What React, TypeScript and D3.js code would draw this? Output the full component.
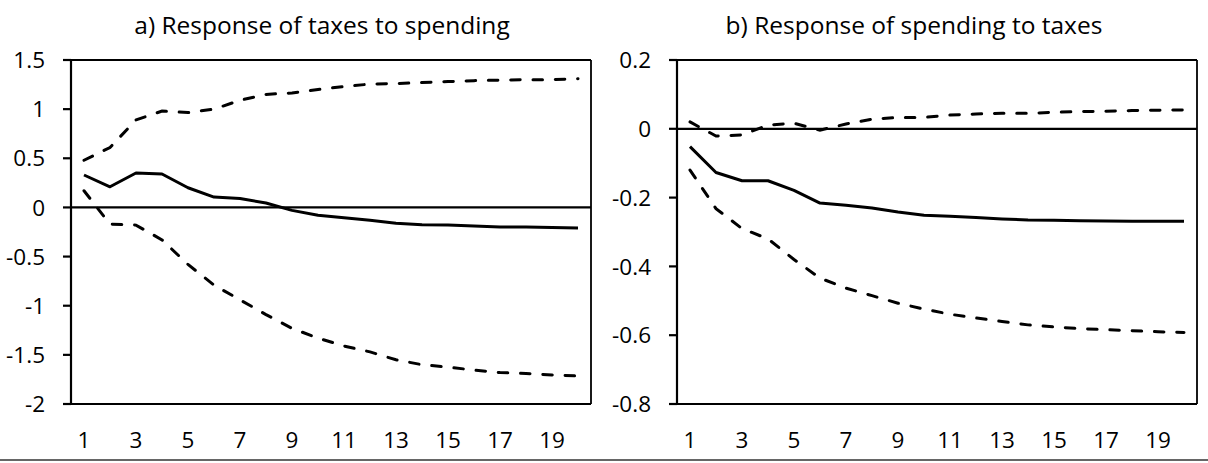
import * as d3 from "d3";

const WIDTH = 1208;
const HEIGHT = 463;
const FONT = "'Open Sans', 'Noto Sans', sans-serif";

const PERIODS = [1, 2, 3, 4, 5, 6, 7, 8, 9, 10, 11, 12, 13, 14, 15, 16, 17, 18, 19, 20];
const X_TICK_LABELS = ["1", "3", "5", "7", "9", "11", "13", "15", "17", "19"];

// a) taxes to spending
const TAX_MEAN = [0.33, 0.21, 0.35, 0.34, 0.2, 0.105, 0.09, 0.045, -0.03, -0.08, -0.105, -0.13, -0.16, -0.175, -0.18, -0.19, -0.2, -0.2, -0.205, -0.21];
const TAX_UPPER = [0.48, 0.61, 0.89, 0.98, 0.965, 1.0, 1.09, 1.15, 1.165, 1.2, 1.23, 1.255, 1.26, 1.27, 1.28, 1.29, 1.295, 1.3, 1.3, 1.31];
const TAX_LOWER = [0.17, -0.17, -0.18, -0.33, -0.58, -0.79, -0.94, -1.09, -1.23, -1.33, -1.41, -1.47, -1.55, -1.6, -1.625, -1.655, -1.68, -1.69, -1.705, -1.715];
const TAX_Y_TICKS = [1.5, 1, 0.5, 0, -0.5, -1, -1.5, -2];

// b) spending to taxes
const SPEND_MEAN = [-0.052, -0.127, -0.151, -0.151, -0.179, -0.216, -0.222, -0.23, -0.242, -0.251, -0.254, -0.258, -0.262, -0.265, -0.266, -0.267, -0.268, -0.269, -0.269, -0.269];
const SPEND_UPPER = [0.02, -0.021, -0.018, 0.011, 0.016, -0.004, 0.014, 0.028, 0.033, 0.033, 0.04, 0.043, 0.045, 0.045, 0.048, 0.05, 0.051, 0.053, 0.054, 0.055];
const SPEND_LOWER = [-0.12, -0.232, -0.29, -0.32, -0.38, -0.434, -0.463, -0.485, -0.507, -0.524, -0.539, -0.55, -0.56, -0.57, -0.576, -0.581, -0.584, -0.587, -0.59, -0.592];
const SPEND_Y_TICKS = [0.2, 0, -0.2, -0.4, -0.6, -0.8];

const PLOT_TOP = 60;
const PLOT_BOTTOM = 404;
const PLOT_W = 520;

type PanelProps = {
  title: string;
  titleX: number;
  left: number;
  yTicks: number[];
  mean: number[];
  upper: number[];
  lower: number[];
};

function Panel({ title, titleX, left, yTicks, mean, upper, lower }: PanelProps) {
  const x = d3
    .scaleBand<number>()
    .domain(PERIODS)
    .range([left, left + PLOT_W])
    .padding(0);
  const cx = (p: number) => (x(p) ?? 0) + x.bandwidth() / 2;
  const y = d3
    .scaleLinear()
    .domain([d3.min(yTicks) as number, d3.max(yTicks) as number])
    .range([PLOT_BOTTOM, PLOT_TOP]);

  const line = d3
    .line<number>()
    .x((_, i) => cx(PERIODS[i]))
    .y((d) => y(d));

  const right = left + PLOT_W;

  return (
    <g>
      <text
        x={titleX}
        y={34}
        textAnchor="middle"
        fontSize={24.5}
        fontFamily={FONT}
        fill="#000"
      >
        {title}
      </text>

      {/* box */}
      <line x1={right} x2={right} y1={PLOT_TOP} y2={PLOT_BOTTOM} stroke="#000" strokeWidth={1.8} />
      <line x1={left} x2={right} y1={PLOT_TOP} y2={PLOT_TOP} stroke="#000" strokeWidth={1.8} />
      <line x1={left} x2={left} y1={PLOT_TOP} y2={PLOT_BOTTOM} stroke="#000" strokeWidth={2.2} />
      <line x1={left} x2={right} y1={PLOT_BOTTOM} y2={PLOT_BOTTOM} stroke="#000" strokeWidth={2.2} />
      <line x1={left} x2={right} y1={y(0)} y2={y(0)} stroke="#000" strokeWidth={2.2} />

      {yTicks.map((t) => (
        <g key={t}>
          <line x1={left - 8} x2={left} y1={y(t)} y2={y(t)} stroke="#000" strokeWidth={2.2} />
          <text
            x={left - 26}
            y={y(t)}
            dy="0.36em"
            textAnchor="end"
            fontSize={22.5}
            fontFamily={FONT}
            fill="#000"
          >
            {String(t)}
          </text>
        </g>
      ))}

      {X_TICK_LABELS.map((lbl) => (
        <text
          key={lbl}
          x={cx(+lbl)}
          y={448}
          textAnchor="middle"
          fontSize={22.5}
          fontFamily={FONT}
          fill="#000"
        >
          {lbl}
        </text>
      ))}

      <path
        d={line(upper) || ""}
        fill="none"
        stroke="#000"
        strokeWidth={3}
        strokeDasharray="9.5,12.8"
        strokeLinecap="round"
      />
      <path
        d={line(lower) || ""}
        fill="none"
        stroke="#000"
        strokeWidth={3}
        strokeDasharray="9.5,12.8"
        strokeLinecap="round"
      />
      <path
        d={line(mean) || ""}
        fill="none"
        stroke="#000"
        strokeWidth={3}
        strokeLinejoin="round"
      />
    </g>
  );
}

export default function App() {
  return (
    <div style={{ position: "absolute", left: 0, top: 0 }}>
      <svg width={WIDTH} height={HEIGHT} style={{ display: "block", background: "#fff" }}>
        <rect width={WIDTH} height={HEIGHT} fill="#fff" />
        <Panel
          title="a) Response of taxes to spending"
          titleX={322}
          left={71}
          yTicks={TAX_Y_TICKS}
          mean={TAX_MEAN}
          upper={TAX_UPPER}
          lower={TAX_LOWER}
        />
        <Panel
          title="b) Response of spending to taxes"
          titleX={914}
          left={677}
          yTicks={SPEND_Y_TICKS}
          mean={SPEND_MEAN}
          upper={SPEND_UPPER}
          lower={SPEND_LOWER}
        />
        <line x1={0} x2={WIDTH} y1={460} y2={460} stroke="#333" strokeWidth={1.5} />
      </svg>
    </div>
  );
}
